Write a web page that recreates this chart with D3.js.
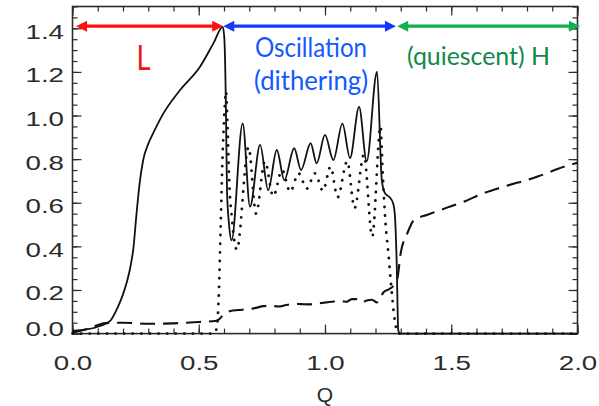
<!DOCTYPE html>
<html>
<head>
<meta charset="utf-8">
<script src="https://cdn.jsdelivr.net/npm/d3@7"></script>
<style>
  html, body { margin: 0; padding: 0; background: #fff; }
  svg { display: block; }
</style>
</head>
<body>
<svg id="chart" width="599" height="406"></svg>
<script>
// ---- data: [Q, value] samples for the three curves ----
const solidCurve = [
  [0.000, 0.012], [0.060, 0.020], [0.109, 0.035], [0.149, 0.058], [0.180, 0.123],
  [0.200, 0.180], [0.215, 0.235], [0.230, 0.310], [0.241, 0.390], [0.254, 0.555],
  [0.266, 0.690], [0.280, 0.796], [0.300, 0.870], [0.320, 0.920], [0.360, 1.010],
  [0.426, 1.117], [0.505, 1.224], [0.558, 1.331], [0.595, 1.407],
  [0.601, 1.360], [0.606, 1.150], [0.609, 0.900], [0.612, 0.650], [0.620, 0.500],
  [0.630, 0.428], [0.674, 0.964], [0.703, 0.582], [0.743, 0.865], [0.775, 0.658],
  [0.809, 0.842], [0.839, 0.704], [0.878, 0.850], [0.905, 0.750], [0.943, 0.873],
  [0.967, 0.781], [1.000, 0.911], [1.033, 0.796], [1.069, 0.963], [1.099, 0.805],
  [1.135, 1.040], [1.165, 0.790], [1.206, 1.201], [1.225, 0.703], [1.238, 0.643],
  [1.257, 0.624], [1.270, 0.597], [1.277, 0.540], [1.284, 0.322], [1.290, 0.017],
  [1.297, 0.000], [1.650, 0.000], [2.000, 0.000]
];

const dottedCurve = [
  [0.000, 0.000], [0.300, 0.000], [0.560, 0.000], [0.572, 0.030], [0.580, 0.200],
  [0.587, 0.500], [0.594, 0.800], [0.601, 1.000], [0.608, 1.110], [0.614, 0.950],
  [0.620, 0.720], [0.632, 0.520], [0.651, 0.385], [0.697, 0.855], [0.727, 0.550],
  [0.762, 0.790], [0.795, 0.630], [0.830, 0.750], [0.862, 0.650], [0.895, 0.735],
  [0.928, 0.665], [0.960, 0.735], [0.992, 0.655], [1.022, 0.765], [1.050, 0.625],
  [1.088, 0.790], [1.117, 0.575], [1.154, 0.820], [1.187, 0.445], [1.220, 0.950],
  [1.228, 0.750], [1.240, 0.500], [1.250, 0.380], [1.262, 0.220], [1.272, 0.100],
  [1.283, 0.020], [1.290, 0.000], [1.650, 0.000], [2.000, 0.000]
];

const dashedCurve = [
  [0.000, 0.005], [0.040, 0.015], [0.090, 0.035], [0.130, 0.048], [0.200, 0.050],
  [0.300, 0.045], [0.400, 0.047], [0.500, 0.053], [0.565, 0.058], [0.580, 0.065],
  [0.596, 0.085], [0.626, 0.104], [0.656, 0.108], [0.696, 0.112], [0.726, 0.118],
  [0.756, 0.126], [0.784, 0.128], [0.816, 0.124], [0.846, 0.131], [0.876, 0.136],
  [0.906, 0.135], [0.936, 0.134], [0.966, 0.138], [1.006, 0.143], [1.036, 0.147],
  [1.066, 0.148], [1.086, 0.146], [1.106, 0.158], [1.126, 0.158], [1.146, 0.143],
  [1.166, 0.152], [1.186, 0.155], [1.206, 0.143], [1.221, 0.168], [1.232, 0.190],
  [1.253, 0.203], [1.270, 0.218], [1.286, 0.250], [1.300, 0.370], [1.326, 0.460],
  [1.352, 0.520], [1.406, 0.545], [1.496, 0.583], [1.550, 0.605], [1.626, 0.643],
  [1.706, 0.673], [1.842, 0.720], [1.946, 0.765], [2.000, 0.783]
];

// ---- axes: tick values and labels ----
const xMajorTicks = [0, 0.5, 1.0, 1.5, 2.0];
const xTickLabels = ["0.0", "0.5", "1.0", "1.5", "2.0"];
const yMajorTicks = [0, 0.2, 0.4, 0.6, 0.8, 1.0, 1.2, 1.4];
const yTickLabels = ["0.0", "0.2", "0.4", "0.6", "0.8", "1.0", "1.2", "1.4"];
const xTitle = "Q";

// ---- regime annotations: name and Q extent of each double arrow ----
const regimeNames = ["L", "Oscillation", "(quiescent) H"];
const regimeSubNames = ["", "(dithering)", ""];
const regimeSpans = [[0.014, 0.597], [0.597, 1.281], [1.286, 2.010]];
const arrowLevel = 1.41;

// ---- layout ----
const svg = d3.select("#chart");
const x = d3.scaleLinear().domain([0, 2]).range([72.5, 577.5]);
const y = d3.scaleLinear().domain([0, 1.5]).range([333.6, 6.5]);
const tickColor = "#2b2b2b";
const labelFont = "'Liberation Sans', Arial, Helvetica, sans-serif";
const stretch = 1.32;

// minor ticks (drawn first, inward on all four sides)
const xMinor = d3.range(0, 2.0001, 0.1).map(v => +v.toFixed(2));
const yMinor = d3.range(0, 1.5001, 0.05).map(v => +v.toFixed(2));

function styleAxis(g) {
  g.select(".domain").remove();
  g.selectAll(".tick line").attr("stroke", tickColor).attr("stroke-width", 1.2);
}

svg.append("g").attr("transform", `translate(0,${y(0)})`)
  .call(d3.axisBottom(x).tickValues(xMinor).tickSizeInner(-5).tickSizeOuter(0).tickFormat(""))
  .call(styleAxis);
svg.append("g").attr("transform", `translate(0,${y(1.5)})`)
  .call(d3.axisTop(x).tickValues(xMinor).tickSizeInner(-5).tickSizeOuter(0).tickFormat(""))
  .call(styleAxis);
svg.append("g").attr("transform", `translate(${x(0)},0)`)
  .call(d3.axisLeft(y).tickValues(yMinor).tickSizeInner(-5).tickSizeOuter(0).tickFormat(""))
  .call(styleAxis);
svg.append("g").attr("transform", `translate(${x(2)},0)`)
  .call(d3.axisRight(y).tickValues(yMinor).tickSizeInner(-5).tickSizeOuter(0).tickFormat(""))
  .call(styleAxis);

// major ticks with labels on bottom and left, plain on top and right
const gxB = svg.append("g").attr("transform", `translate(0,${y(0)})`)
  .call(d3.axisBottom(x).tickValues(xMajorTicks).tickSizeInner(-9).tickSizeOuter(0)
    .tickFormat((d, i) => xTickLabels[i]))
  .call(styleAxis);
gxB.selectAll(".tick text")
  .attr("y", 36.5).attr("dy", null).attr("x", 0)
  .attr("text-anchor", "middle")
  .attr("transform", `scale(${stretch},1)`)
  .style("font-family", labelFont).style("font-size", "21px").attr("fill", tickColor);

svg.append("g").attr("transform", `translate(0,${y(1.5)})`)
  .call(d3.axisTop(x).tickValues(xMajorTicks).tickSizeInner(-9).tickSizeOuter(0).tickFormat(""))
  .call(styleAxis);

const gyL = svg.append("g").attr("transform", `translate(${x(0)},0)`)
  .call(d3.axisLeft(y).tickValues(yMajorTicks).tickSizeInner(-9).tickSizeOuter(0)
    .tickFormat((d, i) => yTickLabels[i]))
  .call(styleAxis);
gyL.selectAll(".tick text")
  .attr("x", -8.5 / stretch).attr("dy", null)
  .attr("y", d => d === 0 ? 2 : 10)
  .attr("text-anchor", "end")
  .attr("transform", `scale(${stretch},1)`)
  .style("font-family", labelFont).style("font-size", "21px").attr("fill", tickColor);

svg.append("g").attr("transform", `translate(${x(2)},0)`)
  .call(d3.axisRight(y).tickValues(yMajorTicks).tickSizeInner(-9).tickSizeOuter(0).tickFormat(""))
  .call(styleAxis);

// plot frame
svg.append("rect")
  .attr("x", x(0)).attr("y", y(1.5))
  .attr("width", x(2) - x(0)).attr("height", y(0) - y(1.5))
  .attr("fill", "none").attr("stroke", tickColor).attr("stroke-width", 1.6);

// axis title
svg.append("text")
  .attr("x", x(1.0)).attr("y", 401.5)
  .attr("text-anchor", "middle")
  .style("font-family", labelFont).style("font-size", "21px")
  .attr("fill", tickColor)
  .text(xTitle);

// ---- curves (monotone spline keeps extrema flat and avoids overshoot) ----
const line = d3.line()
  .x(d => x(d[0]))
  .y(d => y(d[1]))
  .curve(d3.curveMonotoneX);

const plot = svg.append("g");

plot.append("path").datum(dashedCurve)
  .attr("d", line).attr("fill", "none")
  .attr("stroke", "#111").attr("stroke-width", 2.1)
  .attr("stroke-dasharray", "15,8");

plot.append("path").datum(dottedCurve)
  .attr("d", line).attr("fill", "none")
  .attr("stroke", "#111").attr("stroke-width", 2.8)
  .attr("stroke-linecap", "round")
  .attr("stroke-dasharray", "0.1,8.5");

plot.append("path").datum(solidCurve)
  .attr("d", line).attr("fill", "none")
  .attr("stroke", "#111").attr("stroke-width", 1.8)
  .attr("stroke-linejoin", "round");

// ---- regime arrows and labels ----
const arrowColors = ["#ff0f0f", "#1438f5", "#0fb04e"];
const textColors = ["#f01515", "#1458ff", "#11894a"];
const headLen = 11, headHalf = 5.5;
const ay = y(arrowLevel);

regimeSpans.forEach((span, i) => {
  const x1 = x(span[0]), x2 = x(span[1]);
  const g = svg.append("g");
  g.append("line")
    .attr("x1", x1 + headLen - 1).attr("x2", x2 - headLen + 1)
    .attr("y1", ay).attr("y2", ay)
    .attr("stroke", arrowColors[i]).attr("stroke-width", 3.4);
  g.append("path")
    .attr("d", `M${x1},${ay} L${x1 + headLen},${ay - headHalf} L${x1 + headLen},${ay + headHalf} Z`)
    .attr("fill", arrowColors[i]);
  g.append("path")
    .attr("d", `M${x2},${ay} L${x2 - headLen},${ay - headHalf} L${x2 - headLen},${ay + headHalf} Z`)
    .attr("fill", arrowColors[i]);
});

const annFont = "Lato, 'Open Sans', sans-serif";

// "L"
svg.append("text")
  .attr("x", x(0.281)).attr("y", 70)
  .attr("text-anchor", "middle")
  .attr("textLength", 14).attr("lengthAdjust", "spacingAndGlyphs")
  .style("font-family", annFont).style("font-size", "35px")
  .attr("fill", textColors[0])
  .text(regimeNames[0]);

// "Oscillation (dithering)"
svg.append("text")
  .attr("x", 255).attr("y", 56.5)
  .attr("textLength", 112).attr("lengthAdjust", "spacingAndGlyphs")
  .style("font-family", annFont).style("font-size", "26px")
  .attr("fill", textColors[1])
  .text(regimeNames[1]);
svg.append("text")
  .attr("x", 254).attr("y", 90)
  .attr("textLength", 114).attr("lengthAdjust", "spacingAndGlyphs")
  .style("font-family", annFont).style("font-size", "26px")
  .attr("fill", textColors[1])
  .text(regimeSubNames[1]);

// "(quiescent) H"
svg.append("text")
  .attr("x", 407).attr("y", 65)
  .attr("textLength", 143).attr("lengthAdjust", "spacingAndGlyphs")
  .style("font-family", annFont).style("font-size", "25px")
  .attr("fill", textColors[2])
  .text(regimeNames[2]);
</script>
</body>
</html>
